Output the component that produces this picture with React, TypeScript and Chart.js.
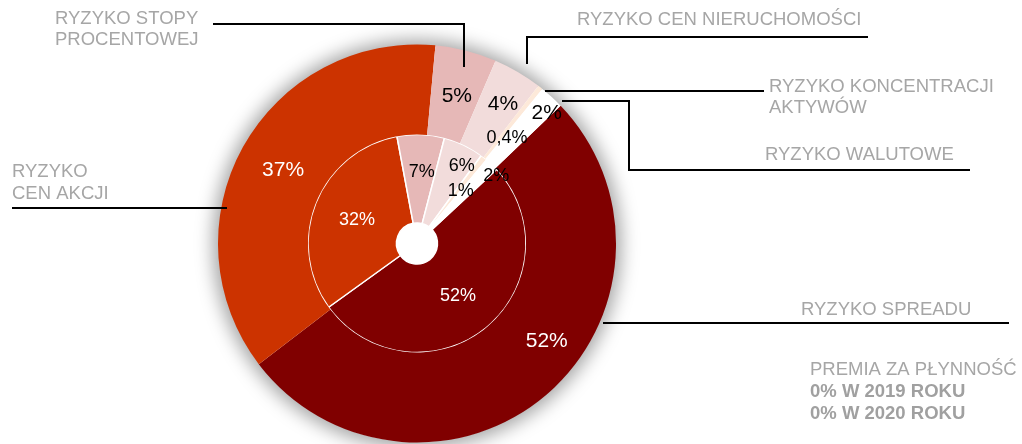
import React, { useEffect, useRef } from 'react';
import { Chart, registerables } from 'chart.js';

Chart.register(...registerables);

// ---- data ----
const categories = [
  'RYZYKO SPREADU',
  'RYZYKO CEN AKCJI',
  'RYZYKO STOPY PROCENTOWEJ',
  'RYZYKO CEN NIERUCHOMOŚCI',
  'RYZYKO KONCENTRACJI AKTYWÓW',
  'RYZYKO WALUTOWE',
];
const values2020 = [52, 37, 5, 4, 0.4, 2]; // outer ring
const values2019 = [52, 32, 7, 6, 1, 2]; // inner ring
const sliceColors = ['#800000', '#CC3300', '#E6B8B7', '#F2DCDB', '#FDE9D9', '#FFFFFF'];
const labelColors = ['#FFFFFF', '#FFFFFF', '#000000', '#000000', '#000000', '#000000'];
const premiumLines = ['PREMIA ZA PŁYNNOŚĆ', '0% W 2019 ROKU', '0% W 2020 ROKU'];

// ---- layout (styles / positions, not data) ----
const FONT = '"Liberation Sans", Arial, sans-serif';
const GRAY = '#a6a6a6';
// per-slice label tweaks: [angle offset deg, radial fraction]
const outerLabelTweak = [
  [-12.6, 0.59],
  [0, 0.49],
  [0.8, 0.49],
  [1, 0.62],
  [1.8, 0.34],
  [2, 0.84],
];
const innerLabelTweak = [
  [0.7, 0.51],
  [0.3, 0.5],
  [1.7, 0.59],
  [4.3, 0.79],
  [1.2, 0.55],
  [5.9, 0.95],
];
const callouts = [
  { lines: ['RYZYKO STOPY', 'PROCENTOWEJ'], x: 55, y: [24, 45], path: [[213, 24], [464, 24], [464, 67]] },
  { lines: ['RYZYKO', 'CEN AKCJI'], x: 12, y: [177, 199], path: [[12, 208], [227, 208]] },
  { lines: ['RYZYKO CEN NIERUCHOMOŚCI'], x: 577, y: [25], path: [[527, 64], [527, 37], [868, 37]] },
  { lines: ['RYZYKO KONCENTRACJI', 'AKTYWÓW'], x: 769, y: [92, 113], path: [[545, 91], [764, 91]] },
  { lines: ['RYZYKO WALUTOWE'], x: 765, y: [160], path: [[562, 101], [629, 101], [629, 170], [970, 170]] },
  { lines: ['RYZYKO SPREADU'], x: 801, y: [315], path: [[603, 323], [1009, 323]] },
];
const premiumPos = { x: 810, y: [375, 397, 419] };

const fmt = (v: number) => String(v).replace('.', ',') + '%';

const labelPlugin = {
  id: 'sliceLabels',
  afterDatasetsDraw(chart: any) {
    const ctx = chart.ctx;
    ctx.save();
    ctx.textAlign = 'center';
    ctx.textBaseline = 'middle';
    chart.data.datasets.forEach((ds: any, di: number) => {
      const meta = chart.getDatasetMeta(di);
      const tweaks = di === 0 ? outerLabelTweak : innerLabelTweak;
      meta.data.forEach((arc: any, i: number) => {
        const p = arc.getProps(['x', 'y', 'startAngle', 'endAngle', 'innerRadius', 'outerRadius'], true);
        const [da, fr] = tweaks[i];
        const a = (p.startAngle + p.endAngle) / 2 + (da * Math.PI) / 180;
        const r = p.innerRadius + fr * (p.outerRadius - p.innerRadius);
        const isSmall = di === 0 && i === 4;
        const size = di === 0 && !isSmall ? 21 : 18;
        ctx.font = `${size}px ${FONT}`;
        ctx.fillStyle = labelColors[i];
        ctx.fillText(fmt(ds.data[i]), p.x + Math.cos(a) * r, p.y + Math.sin(a) * r + 1);
      });
    });
    ctx.restore();
  },
  afterDraw(chart: any) {
    const ctx = chart.ctx;
    ctx.save();
    ctx.strokeStyle = '#000000';
    ctx.lineWidth = 2;
    ctx.textAlign = 'left';
    ctx.textBaseline = 'alphabetic';
    callouts.forEach((c) => {
      ctx.beginPath();
      c.path.forEach(([x, y], k) => (k === 0 ? ctx.moveTo(x, y) : ctx.lineTo(x, y)));
      ctx.stroke();
      ctx.font = `18.5px ${FONT}`;
      ctx.fillStyle = GRAY;
      c.lines.forEach((t, k) => ctx.fillText(t, c.x, c.y[k]));
    });
    premiumLines.forEach((t, k) => {
      ctx.font = `${k === 0 ? '' : 'bold '}18.5px ${FONT}`;
      ctx.fillStyle = k === 0 ? GRAY : '#a0a0a0';
      ctx.fillText(t, premiumPos.x, premiumPos.y[k]);
    });
    ctx.restore();
  },
};

export default function App() {
  const ref = useRef<HTMLCanvasElement | null>(null);
  const shadowRef = useRef<HTMLDivElement | null>(null);
  useEffect(() => {
    if (!ref.current) return;
    const chart = new Chart(ref.current, {
      type: 'doughnut',
      data: {
        labels: categories,
        datasets: [
          {
            label: '2020',
            data: values2020,
            backgroundColor: sliceColors,
            borderWidth: 0,
            hoverBorderWidth: 0,
            weight: 90,
            rotation: 46.2,
          } as any,
          {
            label: '2019',
            data: values2019,
            backgroundColor: sliceColors,
            borderColor: '#ffffff',
            borderWidth: 1.5,
            hoverBorderWidth: 1.5,
            weight: 88.5,
            rotation: 47,
          } as any,
        ],
      },
      options: {
        animation: false,
        responsive: false,
        cutout: 20.5,
        layout: { padding: { left: 218, right: 406, top: 44.5, bottom: 1.5 } },
        plugins: { legend: { display: false }, tooltip: { enabled: false } },
        events: [],
      },
      plugins: [labelPlugin],
    });
    // soft halo behind the outer ring, placed from the chart's own arc geometry
    const arc: any = chart.getDatasetMeta(0).data[0];
    const sd = shadowRef.current;
    if (arc && sd) {
      const r = arc.outerRadius - 1;
      sd.style.left = `${arc.x - r}px`;
      sd.style.top = `${arc.y - r}px`;
      sd.style.width = `${2 * r}px`;
      sd.style.height = `${2 * r}px`;
      sd.style.display = 'block';
    }
    return () => chart.destroy();
  }, []);
  return (
    <div
      style={{
        position: 'absolute',
        left: 0,
        top: 0,
        width: 1022,
        height: 444,
        background: '#fff',
        overflow: 'hidden',
      }}
    >
      <div
        ref={shadowRef}
        style={{
          position: 'absolute',
          display: 'none',
          borderRadius: '50%',
          background: '#fff',
          boxShadow: '0 0 18px 6px rgba(0,0,0,0.36)',
          zIndex: 0,
        }}
      />
      <canvas
        ref={ref}
        width={1022}
        height={444}
        style={{ display: 'block', position: 'absolute', left: 0, top: 0, zIndex: 1 }}
      />
    </div>
  );
}
